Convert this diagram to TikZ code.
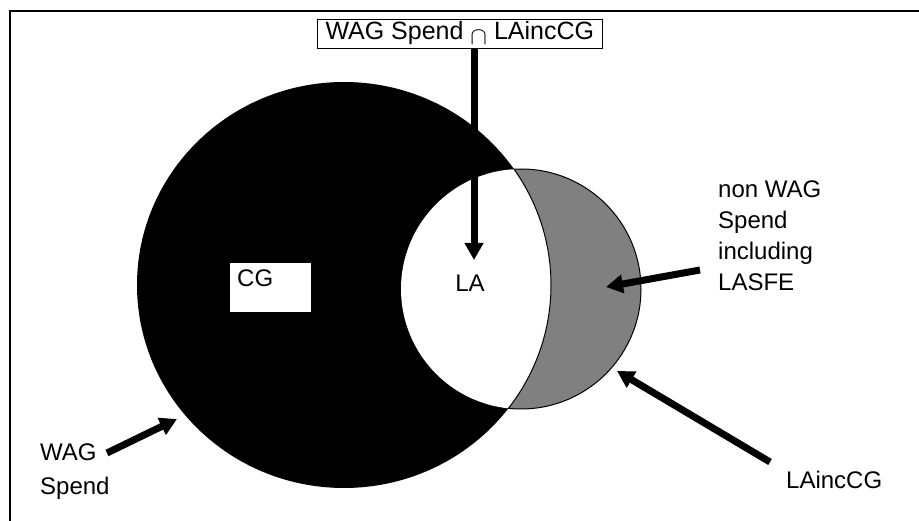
\documentclass[tikz,border=0pt]{standalone}
\usepackage{fontspec}
\setmainfont{Liberation Sans}
\usetikzlibrary{arrows.meta, positioning, calc}
\definecolor{lagray}{rgb}{0.5,0.5,0.5}

\begin{document}
\begin{tikzpicture}[x=1pt, y=-1pt,
		fat/.style={line width=7pt, -{Triangle[length=17pt,width=18pt]}},
		txt/.style={inner sep=0pt, align=left, font=\fontsize{24}{31}\selectfont},
	]
		\clip (0,0) rectangle (919,521);
		\draw [line width=1.5pt] (10,540) -- (10,11) -- (940,11);
		
		%----------------------------------------------------------------
		% WAG Spend (black) and LAincCG (grey)
		\fill [black] (344,285) ellipse [x radius=207pt, y radius=203pt];
		\filldraw [fill=lagray, draw=black, line width=1pt] (521,289) circle [radius=120pt];
		\begin{scope}
			\clip (344,285) ellipse [x radius=207pt, y radius=203pt];
			\fill [white] (521,289) circle [radius=120pt];
		\end{scope}
		\begin{scope}
			\clip (521,289) circle [radius=120pt];
			\draw [line width=1pt] (344,285) ellipse [x radius=207pt, y radius=203pt];
		\end{scope}
		
		%----------------------------------------------------------------
		\node(wagla) [txt, draw, fill=white, line width=1pt, anchor=north west, inner xsep=8pt, inner ysep=3.5pt, text height=17pt, text depth=5pt, font=\fontsize{25}{31}\selectfont] at (317,19) {WAG Spend \raisebox{-5pt}{$\cap$} LAincCG} ;
		\node(cg) [txt, fill=white, anchor=north west, text width=67pt, inner xsep=7pt, inner ysep=7pt, text height=16pt, text depth=19pt] at (230,263) {CG} ;
		\node(la) [txt] at (470,283) {LA} ;
		\node(nonwag) [txt, anchor=north west] at (718,181) {non WAG \\ Spend \\ including \\ LASFE} ;
		\node(wagspend) [txt, anchor=north west, font=\fontsize{24}{34}\selectfont] at (40,444) {WAG \\ Spend} ;
		\node(lainc) [txt, anchor=north west] at (786,471) {LAincCG} ;
		
		%----------------------------------------------------------------
		\coordinate (latip) at (474,260);
		\coordinate (nwtail) at (700,270);
		\coordinate (nwtip) at (606,287);
		\coordinate (wagtail) at (107,453);
		\coordinate (wagtip) at (177,419);
		\coordinate (lainctail) at (770,462);
		\coordinate (lainctip) at (617,371);
		
		\draw [fat] (latip |- wagla.south) -- (latip);
		\draw [fat] (nwtail) -- (nwtip);
		\draw [fat] (wagtail) -- (wagtip);
		\draw [fat] (lainctail) -- (lainctip);
		
	\end{tikzpicture}
\end{document}
